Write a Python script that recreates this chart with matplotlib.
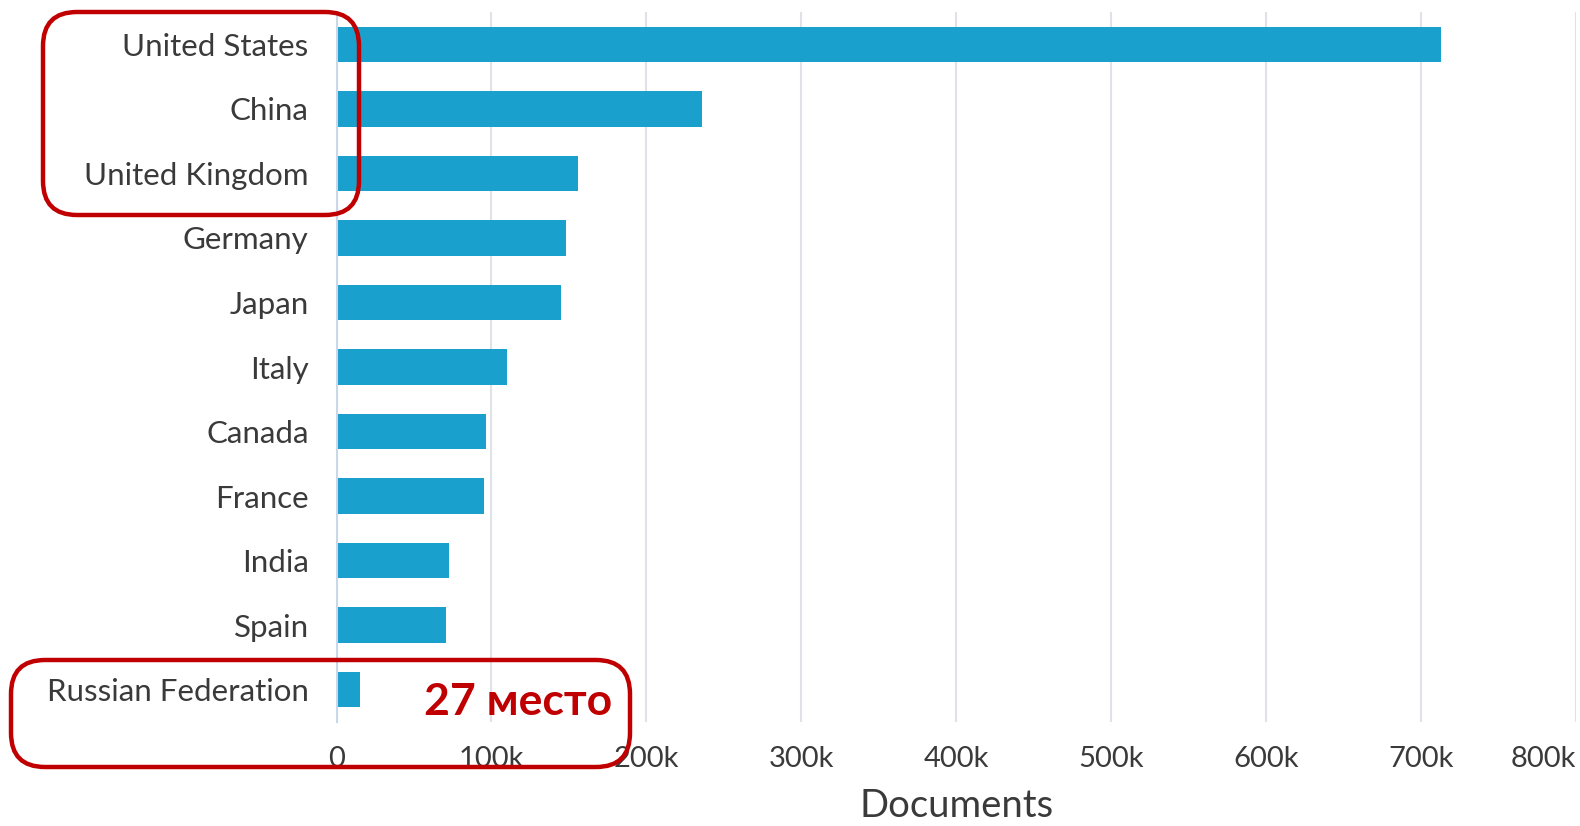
import matplotlib
matplotlib.use("Agg")
import matplotlib.pyplot as plt
from matplotlib.patches import FancyBboxPatch
from matplotlib.transforms import IdentityTransform
from matplotlib.ticker import FuncFormatter

countries = ["United States", "China", "United Kingdom", "Germany", "Japan",
             "Italy", "Canada", "France", "India", "Spain", "Russian Federation"]
documents = [713000, 236000, 156000, 148000, 145000,
             110000, 96500, 95000, 72500, 71000, 15000]
x_ticks = [0, 100000, 200000, 300000, 400000, 500000, 600000, 700000, 800000]
x_label = "Documents"
rank_note = "27 место"

W, H = 1580, 826
BAR = "#1aa0cd"
TEXT = "#3a3a3a"
RED = "#c00000"

plt.rcParams["font.family"] = ["Lato", "DejaVu Sans"]

fig = plt.figure(figsize=(W / 100, H / 100), dpi=100)
ax = fig.add_axes([336.5 / W, 1 - 722 / H, 1239.4 / W, 710 / H])

y = list(range(len(countries)))
ax.barh(y, documents, height=0.55, color=BAR, zorder=3)
ax.set_ylim(len(countries) - 0.5, -0.5)
ax.set_xlim(0, 800000)

ax.set_yticks(y)
ax.set_yticklabels(countries, fontsize=22.5, color=TEXT)
ax.set_xticks(x_ticks)
ax.xaxis.set_major_formatter(FuncFormatter(lambda v, p: "0" if v == 0 else f"{int(v/1000)}k"))
ax.tick_params(axis="x", length=0, pad=17, labelsize=21, labelcolor=TEXT)
ax.tick_params(axis="y", length=0, pad=20)
ax.set_xlabel(x_label, fontsize=27.5, color=TEXT, labelpad=12)

# last tick label sits flush with the right edge
fig.canvas.draw()
ax.get_xticklabels()[-1].set_horizontalalignment("right")

ax.grid(axis="x", color="#dfe3e8", linewidth=1.5, zorder=0)
for s in ["top", "right", "bottom"]:
    ax.spines[s].set_visible(False)
ax.spines["left"].set_color("#c9d7e8")
ax.spines["left"].set_linewidth(1.5)
ax.spines["left"].set_zorder(4)

# Highlight frames around the top three and Russia
def frame(x0, y0, x1, y1):
    box = FancyBboxPatch((x0, H - y1), x1 - x0, y1 - y0,
                         boxstyle="round,pad=0,rounding_size=34",
                         transform=IdentityTransform(), fill=False,
                         edgecolor=RED, linewidth=3.2, zorder=10)
    fig.patches.append(box)

frame(43, 12, 359, 215)
frame(11, 660, 630, 767)

fig.text(518 / W, 1 - 702 / H, rank_note, color=RED, fontsize=32,
         fontweight="bold", ha="center", va="center")

fig.savefig("out.png", dpi=100)
